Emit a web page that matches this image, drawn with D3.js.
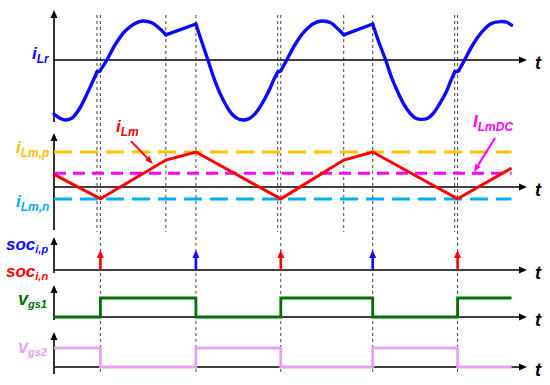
<!DOCTYPE html>
<html><head><meta charset="utf-8">
<script src="https://cdn.jsdelivr.net/npm/d3@7"></script>
<style>
body{margin:0;background:#fff}
text{font-family:"Liberation Sans",Arial,sans-serif;font-weight:bold;font-style:italic}
</style>
</head><body><svg id="c" width="550" height="385"></svg>
<script>
// ---------------- data ----------------
const tAxisEnd = 263;      // end of time axes (arrow tip)
const tWaveEnd = 254.4;    // end of drawn waveforms

// resonant current iLr, segments of (t, value)
const iLrSegments = [
  [[0,-0.90],[3.3,-0.97],[6.7,-1.00],[10,-0.97],[14.4,-0.80],[18.9,-0.53],[23.9,-0.20]],
  [[23.9,-0.20],[25.6,-0.18]],
  [[25.6,-0.18],[29.4,0],[33.9,0.25],[39.4,0.48],[45,0.61],[49.4,0.65],[54.4,0.62],[58.9,0.52],[62.2,0.42]],
  [[62.2,0.42],[78.9,0.60]],
  [[78.9,0.60],[82.2,0.30],[85.6,0],[88.9,-0.30],[92.2,-0.55],[95.6,-0.75],[98.9,-0.90],[102.2,-0.98],[105.6,-1.0],[108.9,-0.97],[112.2,-0.88],[115.6,-0.73],[118.9,-0.55],[122.2,-0.33],[124.4,-0.20]],
  [[124.4,-0.20],[126.1,-0.18]],
  [[126.1,-0.18],[129.4,0],[133.9,0.25],[139.4,0.48],[144.4,0.61],[148.9,0.65],[153.9,0.62],[157.8,0.52],[161.1,0.42]],
  [[161.1,0.42],[177.2,0.60]],
  [[177.2,0.60],[180.6,0.30],[184.4,0],[187.8,-0.30],[191.1,-0.53],[194.4,-0.73],[197.8,-0.88],[201.1,-0.97],[204.4,-0.99],[207.8,-0.97],[211.1,-0.88],[214.4,-0.73],[217.8,-0.55],[220.6,-0.35],[222.8,-0.20]],
  [[222.8,-0.20],[225,-0.18]],
  [[225,-0.18],[228.3,0],[232.8,0.25],[238.3,0.48],[243.3,0.61],[248.3,0.64],[251.7,0.63],[254.4,0.58]]
];

// magnetizing current iLm (t, value)
const iLmPoints = [[0,0.36],[25.8,-0.34],[62.2,0.77],[78.9,1.0],[126.1,-0.34],[161.1,0.77],[177.2,1.0],[224.4,-0.34],[254.4,0.54]];
const levelNames  = ["iLm,p", "ILmDC", "iLm,n"];
const levelValues = [1.0, 0.39, -0.34];

// event times
const switchTimes = [25.8, 78.9, 126.1, 177.2, 224.4];
const auxTimes    = [23.9, 62.2, 124.4, 161.1, 222.8];
const socTypes    = ["n", "p", "n", "p", "n"];

// gate signals (step-after)
const vgs1Points = [[0,0],[25.8,1],[78.9,0],[126.1,1],[177.2,0],[224.4,1],[254.4,1]];
const vgs2Points = [[0,1],[25.8,0],[78.9,1],[126.1,0],[177.2,1],[224.4,0],[254.4,0]];

// ---------------- drawing ----------------
const svg = d3.select("#c");
const C = {blue:"#0a0aff", red:"#ff0000", orange:"#ffc000", magenta:"#ff00ff", cyan:"#00b0f0",
           green:"#007000", violet:"#e8a0f4", black:"#000"};

const x = d3.scaleLinear().domain([0, tAxisEnd]).range([54, 527]);
const yLr = d3.scaleLinear().domain([-1, 1]).range([120, 0]);
const yLm = d3.scaleLinear().domain([0, 1]).range([187, 152]);
const ySoc = d3.scaleLinear().domain([0, 1]).range([270, 250]);
const yV1 = d3.scaleLinear().domain([0, 1]).range([317, 298]);
const yV2 = d3.scaleLinear().domain([0, 1]).range([367, 348]);

// vertical dashed guide lines
const gGuide = svg.append("g").attr("stroke","#444").attr("stroke-width",1).attr("stroke-dasharray","3,3");
gGuide.selectAll("line.full").data(switchTimes).join("line")
  .attr("x1", d=>x(d)).attr("x2", d=>x(d)).attr("y1",15).attr("y2",373);
gGuide.selectAll("line.short").data(auxTimes).join("line")
  .attr("x1", d=>x(d)).attr("x2", d=>x(d)).attr("y1",15).attr("y2",232);

// axes
const panels = [
  {y0: yLr(0), top: 10, bottom: 122},
  {y0: yLm(0), top: 133, bottom: 230},
  {y0: ySoc(0), top: 237, bottom: 273},
  {y0: yV1(0), top: 285, bottom: 320},
  {y0: yV2(0), top: 332, bottom: 374}
];
const gAx = svg.append("g");
panels.forEach(p => {
  gAx.append("line").attr("x1",x(0)).attr("x2",x(tAxisEnd)-6).attr("y1",p.y0).attr("y2",p.y0)
    .attr("stroke",C.black).attr("stroke-width",1.6);
  gAx.append("path").attr("d",`M${x(tAxisEnd)},${p.y0}L${x(tAxisEnd)-8},${p.y0-3.5}L${x(tAxisEnd)-8},${p.y0+3.5}Z`).attr("fill",C.black);
  gAx.append("line").attr("x1",x(0)).attr("x2",x(0)).attr("y1",p.top+6).attr("y2",p.bottom)
    .attr("stroke",C.black).attr("stroke-width",1.6);
  gAx.append("path").attr("d",`M${x(0)},${p.top}L${x(0)-3.5},${p.top+8}L${x(0)+3.5},${p.top+8}Z`).attr("fill",C.black);
  gAx.append("text").attr("x",535).attr("y",p.y0+9).attr("font-size",18).attr("fill",C.black).text("t");
});

// iLr
const lineLr = d3.line().x(d=>x(d[0])).y(d=>yLr(d[1])).curve(d3.curveCatmullRom.alpha(0.5));
svg.append("g").selectAll("path").data(iLrSegments).join("path")
  .attr("d", lineLr).attr("fill","none").attr("stroke",C.blue).attr("stroke-width",3.4)
  .attr("stroke-linejoin","round").attr("stroke-linecap","round");

// iLm levels
const levelColors = [C.orange, C.magenta, C.cyan];
const levelDash = ["18,8","12,7","18,8"];
svg.append("g").selectAll("line").data(levelValues).join("line")
  .attr("x1",x(0)).attr("x2",x(tWaveEnd)).attr("y1",d=>yLm(d)).attr("y2",d=>yLm(d))
  .attr("stroke",(d,i)=>levelColors[i]).attr("stroke-width",3).attr("stroke-dasharray",(d,i)=>levelDash[i]);

// iLm
svg.append("path").datum(iLmPoints)
  .attr("d", d3.line().x(d=>x(d[0])).y(d=>yLm(d[1])))
  .attr("fill","none").attr("stroke",C.red).attr("stroke-width",3).attr("stroke-linejoin","miter");

// soc arrows
socTypes.forEach((s,i) => {
  const cx = x(switchTimes[i]), col = s==="p" ? C.blue : C.red;
  svg.append("line").attr("x1",cx).attr("x2",cx).attr("y1",ySoc(0)).attr("y2",ySoc(1)+6)
    .attr("stroke",col).attr("stroke-width",2.6);
  svg.append("path").attr("d",`M${cx},${ySoc(1)}L${cx-3.5},${ySoc(1)+8}L${cx+3.5},${ySoc(1)+8}Z`).attr("fill",col);
});

// gate signals
svg.append("path").datum(vgs1Points)
  .attr("d", d3.line().x(d=>x(d[0])).y(d=>yV1(d[1])).curve(d3.curveStepAfter))
  .attr("fill","none").attr("stroke",C.green).attr("stroke-width",2.8);
svg.append("path").datum(vgs2Points)
  .attr("d", d3.line().x(d=>x(d[0])).y(d=>yV2(d[1])).curve(d3.curveStepAfter))
  .attr("fill","none").attr("stroke",C.violet).attr("stroke-width",2.8);

// annotation arrows
function arrow(x1,y1,x2,y2,col,w,hl,hw){
  const a = Math.atan2(y2-y1,x2-x1), bx = x2-hl*Math.cos(a), by = y2-hl*Math.sin(a);
  svg.append("line").attr("x1",x1).attr("y1",y1).attr("x2",bx).attr("y2",by).attr("stroke",col).attr("stroke-width",w);
  const px = -Math.sin(a)*hw/2, py = Math.cos(a)*hw/2;
  svg.append("path").attr("d",`M${x2},${y2}L${bx+px},${by+py}L${bx-px},${by-py}Z`).attr("fill",col);
}
arrow(x(42.8), yLm(1.31), x(55.0), yLm(0.66), C.red, 2, 8, 6);
arrow(x(245.2), yLm(1.40), x(233.5), yLm(0.43), C.magenta, 2, 8, 6);

// labels
function label(px, py, main, sub, color, ms, ss, dy){
  const t = svg.append("text").attr("x",px).attr("y",py).attr("fill",color);
  t.append("tspan").attr("font-size",ms).text(main);
  t.append("tspan").attr("font-size",ss).attr("dy",dy).text(sub);
}
label(32, 59, "i", "Lr", C.blue, 17, 12, 4);
label(16, 153, "i", "Lm,p", C.orange, 17, 12, 4);
label(16, 207, "i", "Lm,n", C.cyan, 17, 12, 4);
label(6, 250, "soc", "i,p", C.blue, 17, 11, 3);
label(6, 277, "soc", "i,n", C.red, 17, 11, 3);
label(18, 305, "v", "gs1", C.green, 18, 11, 3);
label(18, 353, "v", "gs2", C.violet, 18, 11, 3);
label(x(34.5), yLm(1.57), "i", "Lm", C.red, 17, 12, 4);
label(x(233), yLm(1.71), "I", "LmDC", C.magenta, 17, 12, 4);
</script>
</body></html>
